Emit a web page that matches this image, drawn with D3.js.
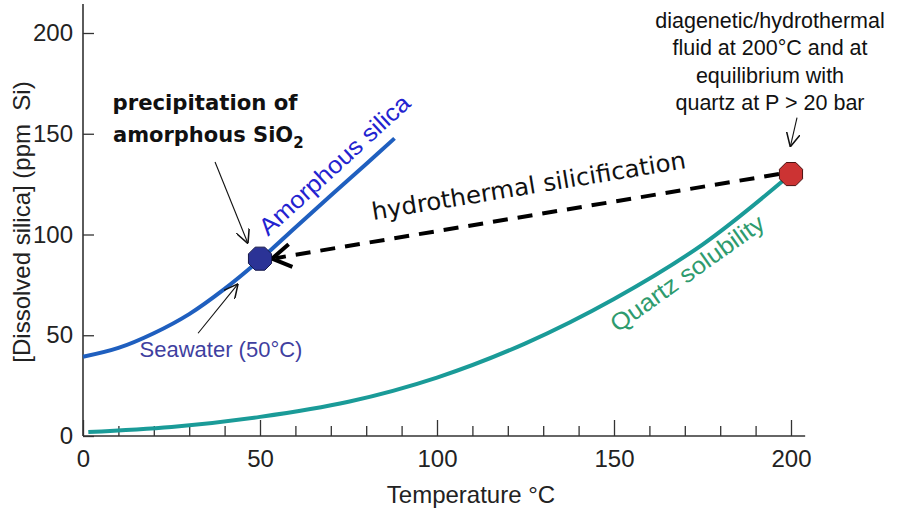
<!DOCTYPE html>
<html><head><meta charset="utf-8">
<script src="https://cdn.jsdelivr.net/npm/d3@7"></script>
<style>
html,body{margin:0;padding:0;background:#fff;}
svg{display:block;}
</style></head>
<body>
<script>
// ---- data ----
const xTicksMajor = [0, 50, 100, 150, 200];
const xTicksMinor = [10,20,30,40,60,70,80,90,110,120,130,140,160,170,180,190];
const yTicks = [0, 50, 100, 150, 200];
const amorphT = [0, 10, 20, 30, 40, 50, 60, 70, 80, 88];
const amorphV = [39.3, 43.7, 51, 60.5, 73, 87.5, 103.5, 119.3, 135, 147.7];
const quartzT = [1.5, 25, 50, 75, 100, 125, 150, 175, 200];
const quartzV = [2, 4.5, 9.5, 17, 29, 46, 68, 95, 130];
const seawaterPt = [50, 88];
const fluidPt = [200, 130];
const fluidNote = ["diagenetic/hydrothermal", "fluid at 200°C and at", "equilibrium with", "quartz at P > 20 bar"];

const W = 897, H = 513;
const x = d3.scaleLinear().domain([0, 200]).range([83, 791]);
const y = d3.scaleLinear().domain([0, 200]).range([436, 33]);

const svg = d3.select("body").append("svg").attr("width", W).attr("height", H);
const defs = svg.append("defs");
defs.append("marker").attr("id", "thinArrow").attr("viewBox", "0 0 10 10")
  .attr("refX", 10).attr("refY", 5).attr("markerWidth", 14).attr("markerHeight", 14)
  .attr("markerUnits", "userSpaceOnUse").attr("orient", "auto")
  .append("path").attr("d", "M0,0 L10,5 L0,10").attr("fill", "none").attr("stroke", "#111").attr("stroke-width", 1.1);

const axisColor = "#333";
const labelFont = "'Liberation Sans', Arial, sans-serif";
const comicFont = "'DejaVu Sans', sans-serif";

// x axis
const gx = svg.append("g").attr("transform", `translate(0,${y(0)})`);
gx.call(d3.axisBottom(x).tickValues(xTicksMajor).tickSize(-16).tickPadding(14).tickFormat(d3.format("d")));
gx.call(g => g.select(".domain").remove());
svg.append("g").attr("transform", `translate(0,${y(0)})`)
  .call(d3.axisBottom(x).tickValues(xTicksMinor).tickSize(-10).tickFormat(""))
  .call(g => g.select(".domain").remove());
svg.append("line").attr("x1", x(0)).attr("x2", x(204)).attr("y1", y(0)).attr("y2", y(0))
  .attr("stroke", axisColor).attr("stroke-width", 1.6);

// y axis
const gy = svg.append("g").attr("transform", `translate(${x(0)},0)`);
gy.call(d3.axisLeft(y).tickValues(yTicks).tickSize(-11).tickPadding(10).tickFormat(d3.format("d")));
gy.call(g => g.select(".domain").remove());
svg.append("line").attr("x1", x(0)).attr("x2", x(0)).attr("y1", y(0)).attr("y2", 4)
  .attr("stroke", axisColor).attr("stroke-width", 1.6);

svg.selectAll(".tick line").attr("stroke", axisColor).attr("stroke-width", 1.3);
svg.selectAll(".tick text").attr("font-family", labelFont).attr("font-size", 24).attr("fill", "#222");

// axis titles
svg.append("text").attr("x", 471).attr("y", 503).attr("text-anchor", "middle")
  .attr("font-family", labelFont).attr("font-size", 24).attr("fill", "#222").text("Temperature °C");
svg.append("text").attr("transform", "translate(30,222) rotate(-90)").attr("text-anchor", "middle")
  .attr("font-family", labelFont).attr("font-size", 24).attr("fill", "#222")
  .style("white-space", "pre").text("[Dissolved silica] (ppm  Si)");

// curves
const line = d3.line().x(d => x(d[0])).y(d => y(d[1])).curve(d3.curveCatmullRom.alpha(0.5));
svg.append("path").datum(amorphT.map((t, i) => [t, amorphV[i]])).attr("d", line)
  .attr("fill", "none").attr("stroke", "#1f5fbf").attr("stroke-width", 4);
svg.append("path").datum(quartzT.map((t, i) => [t, quartzV[i]])).attr("d", line)
  .attr("fill", "none").attr("stroke", "#1a9b98").attr("stroke-width", 4);

// dashed arrow
const r = 12;
const x1 = x(fluidPt[0]) - r, y1 = y(fluidPt[1]), x2 = x(seawaterPt[0]) + r, y2 = y(seawaterPt[1]);
const ang = Math.atan2(y1 - y2, x1 - x2);
const gap = 20;
svg.append("line").attr("x1", x1).attr("y1", y1)
  .attr("x2", x2 + gap * Math.cos(ang)).attr("y2", y2 + gap * Math.sin(ang))
  .attr("stroke", "#000").attr("stroke-width", 4).attr("stroke-dasharray", "15,10");
const aL = 22, spread = 0.55;
svg.append("path")
  .attr("d", `M${x2 + aL * Math.cos(ang + spread)},${y2 + aL * Math.sin(ang + spread)} L${x2},${y2} L${x2 + aL * Math.cos(ang - spread)},${y2 + aL * Math.sin(ang - spread)}`)
  .attr("fill", "none").attr("stroke", "#000").attr("stroke-width", 4).attr("stroke-linejoin", "miter");
svg.append("line").attr("x1", x2 + 4).attr("y1", y2 - 0.5)
  .attr("x2", x2 + 14 * Math.cos(ang)).attr("y2", y2 + 14 * Math.sin(ang))
  .attr("stroke", "#000").attr("stroke-width", 4);

// octagon markers
function octagon(cx, cy, rad) {
  const pts = d3.range(8).map(k => {
    const a = Math.PI / 8 + k * Math.PI / 4;
    return [cx + rad * Math.cos(a), cy + rad * Math.sin(a)];
  });
  return "M" + pts.map(p => p.join(",")).join("L") + "Z";
}
svg.append("path").attr("d", octagon(x(seawaterPt[0]), y(seawaterPt[1]), 12.5))
  .attr("fill", "#2b3396").attr("stroke", "#16184a").attr("stroke-width", 1);
svg.append("path").attr("d", octagon(x(fluidPt[0]), y(fluidPt[1]), 12.5))
  .attr("fill", "#cc3333").attr("stroke", "#4a1010").attr("stroke-width", 1);

// thin annotation arrows
const arrows = [
  [[37.3, 136], [46.6, 95.5]],
  [[32.5, 51], [43.8, 75.5]],
  [[201.7, 158], [199.8, 143.5]]
];
arrows.forEach(a => {
  svg.append("line").attr("x1", x(a[0][0])).attr("y1", y(a[0][1])).attr("x2", x(a[1][0])).attr("y2", y(a[1][1]))
    .attr("stroke", "#111").attr("stroke-width", 1.1).attr("marker-end", "url(#thinArrow)");
});

// comic-style annotations
svg.append("text").attr("x", 205).attr("y", 110).attr("text-anchor", "middle")
  .attr("font-family", comicFont).attr("font-weight", "bold").attr("font-size", 21).attr("fill", "#111")
  .attr("textLength", 185).attr("lengthAdjust", "spacingAndGlyphs").text("precipitation of");
const t2 = svg.append("text").attr("x", 113).attr("y", 142)
  .attr("font-family", comicFont).attr("font-weight", "bold").attr("font-size", 21).attr("fill", "#111");
t2.append("tspan").text("amorphous SiO");
t2.append("tspan").attr("font-size", 15).attr("dy", 6).text("2");

svg.append("text").attr("transform", "translate(530,194) rotate(-9.4)").attr("text-anchor", "middle")
  .attr("font-family", comicFont).attr("font-size", 24).attr("fill", "#111")
  .attr("textLength", 318).attr("lengthAdjust", "spacingAndGlyphs").text("hydrothermal silicification");

// curve labels
svg.append("text").attr("transform", "translate(340,171) rotate(-42.5)").attr("text-anchor", "middle")
  .attr("font-family", labelFont).attr("font-size", 24).attr("fill", "#2323d0")
  .attr("textLength", 195).attr("lengthAdjust", "spacingAndGlyphs").text("Amorphous silica");
svg.append("text").attr("transform", "translate(692,280) rotate(-35.4)").attr("text-anchor", "middle")
  .attr("font-family", labelFont).attr("font-size", 24).attr("fill", "#2e9b6e")
  .attr("textLength", 183).attr("lengthAdjust", "spacingAndGlyphs").text("Quartz solubility");
svg.append("text").attr("x", 221).attr("y", 357).attr("text-anchor", "middle")
  .attr("font-family", labelFont).attr("font-size", 22).attr("fill", "#3f3fa0").text("Seawater (50°C)");

// top-right note
svg.append("g").selectAll("text").data(fluidNote).join("text")
  .attr("x", 770).attr("y", (d, i) => 28 + i * 27.3).attr("text-anchor", "middle")
  .attr("font-family", labelFont).attr("font-size", 21.5).attr("fill", "#111").text(d => d);
</script>
</body></html>
